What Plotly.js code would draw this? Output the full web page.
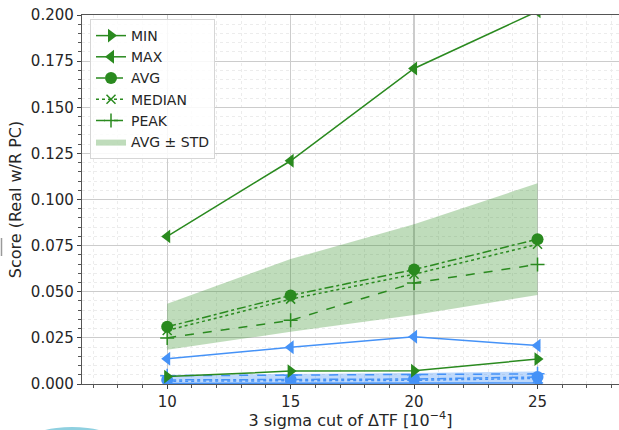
<!DOCTYPE html>
<html>
<head>
<meta charset="utf-8">
<script src="https://cdn.plot.ly/plotly-3.0.1.min.js"></script>
<style>html,body{margin:0;padding:0;background:#fff;}#chart{width:619px;height:430px;}</style>
</head>
<body>
<div id="chart"></div>
<script>
// x: 3 sigma cut of ΔTF [1e-4]
const cuts = [10, 15, 20, 25];

// green series
const gMin = [0.004, 0.007, 0.0072, 0.0135];
const gMax = [0.080, 0.121, 0.171, 0.202];
const gAvg = [0.031, 0.048, 0.062, 0.0785];
const gMedian = [0.029, 0.046, 0.0595, 0.0757];
const gPeak = [0.025, 0.0345, 0.0548, 0.0648];
const gStd = [0.0125, 0.0197, 0.0246, 0.0303];

// blue series
const bMin = [0.0003, 0.0004, 0.0005, 0.0006];
const bMax = [0.0137, 0.0199, 0.0256, 0.0208];
const bAvg = [0.0022, 0.0023, 0.0027, 0.0038];
const bMedian = [0.0015, 0.0016, 0.002, 0.003];
const bPeak = [0.0045, 0.0047, 0.005, 0.0055];
const bStd = [0.0028, 0.003, 0.0032, 0.003];

const legendNames = ['MIN', 'MAX', 'AVG', 'MEDIAN', 'PEAK', 'AVG ± STD'];

const GREEN = '#2a8a1f';
const BLUE = '#4592f7';

function band(avg, std, color, fill, show) {
  const lo = avg.map((v, i) => Math.max(0, v - std[i]));
  const hi = avg.map((v, i) => v + std[i]);
  return [
    {x: cuts, y: lo, mode: 'lines', line: {width: 0, color: color}, showlegend: false, hoverinfo: 'skip'},
    {x: cuts, y: hi, mode: 'lines', line: {width: 0, color: color}, fill: 'tonexty', fillcolor: fill,
     name: legendNames[5], showlegend: show, legendrank: 6}
  ];
}

function series(vals, color, sym, dash, size, idx, show, mline) {
  return {
    x: cuts, y: vals, mode: 'lines+markers', name: legendNames[idx], showlegend: show,
    legendrank: idx + 1,
    line: {color: color, width: 1.5, dash: dash},
    marker: {symbol: sym, size: size, color: color, line: {color: color, width: mline}}
  };
}

const traces = [
  ...band(bAvg, bStd, BLUE, 'rgba(69,146,247,0.35)', false),
  ...band(gAvg, gStd, GREEN, 'rgba(42,138,31,0.3)', true),
  series(bMin, BLUE, 'triangle-right', 'solid', 12, 0, false, 0),
  series(bMax, BLUE, 'triangle-left', 'solid', 12, 1, false, 0),
  series(bAvg, BLUE, 'circle', 'dashdot', 12, 2, false, 0),
  series(bMedian, BLUE, 'x-thin-open', 'dot', 9, 3, false, 1.5),
  series(bPeak, BLUE, 'cross-thin-open', 'dash', 10, 4, false, 1.5),
  series(gMin, GREEN, 'triangle-right', 'solid', 12, 0, true, 0),
  series(gMax, GREEN, 'triangle-left', 'solid', 12, 1, true, 0),
  series(gAvg, GREEN, 'circle', 'dashdot', 12, 2, true, 0),
  series(gMedian, GREEN, 'x-thin-open', 'dot', 9, 3, true, 1.5),
  series(gPeak, GREEN, 'cross-thin-open', 'dash', 10, 4, true, 1.5)
];

const FONT = 'DejaVu Sans, sans-serif';
const pxX = p => (p - 82) / 537;
const pxY = p => (384 - p) / 369;

const layout = {
  width: 619, height: 430,
  margin: {l: 82, r: 0, t: 15, b: 46, pad: 0},
  paper_bgcolor: '#fff', plot_bgcolor: '#fff',
  font: {family: FONT, size: 15, color: '#262626'},
  showlegend: true,
  legend: {
    x: pxX(90), y: pxY(19), xanchor: 'left', yanchor: 'top', traceorder: 'normal',
    bgcolor: 'rgba(255,255,255,0.85)', bordercolor: '#d6d6d6', borderwidth: 1,
    font: {family: FONT, size: 14, color: '#262626'},
    tracegroupgap: 0, itemwidth: 30
  },
  xaxis: {
    range: [6.55, 28.3], tickvals: cuts, ticktext: cuts.map(String),
    ticks: 'outside', ticklen: 4, tickwidth: 1, tickcolor: '#444',
    showline: true, linecolor: '#555', linewidth: 1.2, mirror: true,
    showgrid: true, gridcolor: '#cccccc', gridwidth: 1.2, zeroline: false,
    tickfont: {family: FONT, size: 15, color: '#262626'},
    title: {text: '3 sigma cut of ΔTF [10<sup>−4</sup>]', font: {family: FONT, size: 16, color: '#262626'}, standoff: 7},
    minor: {dtick: 1, tick0: 0, ticks: 'outside', ticklen: 2.5, tickcolor: '#555', showgrid: true, gridcolor: '#ececec', griddash: 'dot', gridwidth: 1}
  },
  yaxis: {
    range: [0, 0.2], dtick: 0.025, tick0: 0, tickformat: '.3f',
    ticks: 'outside', ticklen: 4, tickwidth: 1, tickcolor: '#444',
    showline: true, linecolor: '#555', linewidth: 1.2, mirror: true,
    showgrid: true, gridcolor: '#cccccc', gridwidth: 1.2, zeroline: false,
    tickfont: {family: FONT, size: 15, color: '#262626'},
    title: {text: 'Score (Real w/R PC)', font: {family: FONT, size: 16, color: '#262626'}, standoff: 5},
    minor: {dtick: 0.005, ticks: 'outside', ticklen: 2.5, tickcolor: '#555', showgrid: true, gridcolor: '#ececec', griddash: 'dot', gridwidth: 1}
  },
  shapes: [
    {type: 'circle', xref: 'paper', yref: 'paper', x0: pxX(-8), x1: pxX(152), y0: pxY(427), y1: pxY(530),
     fillcolor: '#8fd0e0', line: {width: 0}, layer: 'above'},
    {type: 'line', xref: 'paper', yref: 'paper', x0: pxX(1.5), x1: pxX(1.5), y0: pxY(238), y1: pxY(256),
     line: {color: '#9a9a9a', width: 1.5}}
  ]
};

Plotly.newPlot('chart', traces, layout, {staticPlot: true, displayModeBar: false});
</script>
</body>
</html>
